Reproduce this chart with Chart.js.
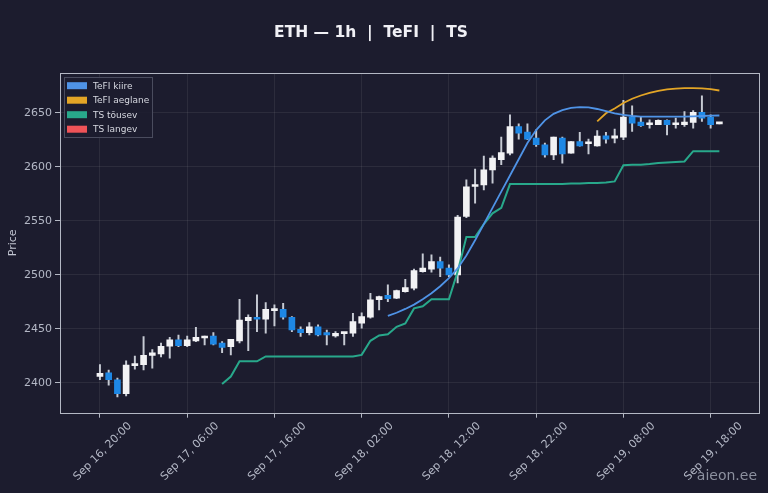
<!DOCTYPE html>
<html>
<head>
<meta charset="utf-8">
<script src="https://cdn.jsdelivr.net/npm/chart.js@4.4.0/dist/chart.umd.min.js"></script>
<style>
  html, body { margin: 0; padding: 0; background: #1c1c2e; }
  #chart { display: block; }
</style>
</head>
<body>
<canvas id="chart" width="768" height="493"></canvas>
<script>
/* DATA (hourly candles, index 0 = Sep 16 20:00) */
const opens = [2406, 2409.5, 2403, 2390, 2416, 2417, 2425.6, 2427, 2434, 2440, 2434.5, 2439, 2441.6, 2443.5, 2437, 2433.5, 2439, 2457.7, 2460.8, 2459, 2467, 2468.2, 2460.8, 2449.7, 2446.6, 2452, 2446.6, 2443.5, 2445.6, 2446, 2455.3, 2460.8, 2477, 2481, 2478.4, 2484.5, 2487.7, 2503, 2505.3, 2512.3, 2506.2, 2500, 2554, 2581.8, 2583.3, 2597.2, 2606.5, 2612.7, 2637.3, 2632.1, 2626.6, 2620.4, 2611.1, 2626.6, 2612.7, 2623.4, 2621.3, 2619.4, 2628.7, 2626.6, 2627.5, 2646, 2641.4, 2638.9, 2638.9, 2642.9, 2638.9, 2638.9, 2641, 2650.3, 2646, 2639.8];
const closes = [2409, 2403, 2390, 2416.5, 2418, 2425.5, 2428, 2434, 2440, 2434.5, 2440, 2442.3, 2443, 2436, 2433, 2440.4, 2458.3, 2460.8, 2459, 2468.2, 2468.2, 2460.8, 2449, 2446.6, 2452, 2444.4, 2444.4, 2446, 2446.6, 2456.8, 2461.4, 2477, 2480, 2478, 2485.5, 2488.3, 2504, 2506.2, 2512.3, 2506.2, 2500, 2553.4, 2581.5, 2583.3, 2597.2, 2608, 2613.2, 2637.3, 2631.2, 2625.6, 2620.4, 2611.1, 2627.5, 2612, 2623.4, 2619.4, 2622.5, 2628.5, 2625.6, 2628.7, 2646, 2640.4, 2638, 2640.4, 2642.9, 2638.9, 2640.4, 2641.4, 2650.3, 2645.1, 2638.9, 2641];
const highs = [2417, 2412, 2404.5, 2420.5, 2425, 2443, 2431, 2437, 2442.3, 2444.4, 2443.5, 2451.6, 2443.5, 2446.6, 2438.3, 2440.4, 2477.5, 2463, 2481.5, 2474.4, 2472.2, 2473.8, 2461.4, 2452, 2455.8, 2453.7, 2449, 2447.5, 2446.6, 2464.5, 2465, 2483, 2480.5, 2490.7, 2486, 2496, 2505.3, 2519.4, 2518.5, 2516.4, 2509.3, 2555, 2588, 2597.8, 2610, 2610.2, 2627.5, 2648, 2639.8, 2639.8, 2634.3, 2622, 2627.5, 2627.5, 2623.4, 2631.8, 2625.6, 2633.6, 2632, 2635, 2661.4, 2656.5, 2646, 2643.5, 2643.5, 2643.5, 2645.1, 2651.2, 2652.1, 2665.7, 2648, 2641];
const lows = [2403, 2398, 2387, 2388, 2412.7, 2412, 2413.6, 2424, 2423, 2433.6, 2433.6, 2438.3, 2435.2, 2435.2, 2428.1, 2425.9, 2437, 2430, 2447.5, 2446, 2452.8, 2459, 2447.5, 2443, 2444.4, 2443.5, 2435.2, 2442.3, 2435.2, 2443, 2450.6, 2460, 2467.6, 2475.3, 2478, 2484, 2486.1, 2502.5, 2502.5, 2498.4, 2498.4, 2492.6, 2553, 2566.4, 2578.7, 2584.9, 2601.9, 2611, 2625.6, 2625, 2618.8, 2609, 2606.5, 2603.4, 2612.7, 2619, 2612, 2619, 2621.9, 2622, 2625, 2632.7, 2637.3, 2635.8, 2638.9, 2629.6, 2635.8, 2637.3, 2635.8, 2641.9, 2635.8, 2639.8];

const tefiFast = [null, null, null, null, null, null, null, null, null, null, null, null, null, null, null, null, null, null, null, null, null, null, null, null, null, null, null, null, null, null, null, null, null, 2462, 2465, 2468.5, 2472.5, 2477.5, 2483, 2489.5, 2497, 2506, 2518, 2532, 2547, 2562, 2577, 2592, 2607, 2622, 2634, 2643, 2649, 2652.5, 2654.5, 2655.3, 2655, 2653.5, 2651.5, 2649.5, 2648, 2647, 2646.5, 2646.5, 2646.5, 2646.5, 2646.5, 2646.5, 2646.7, 2647, 2647.3, 2647.5];
const tefiSlow = [null, null, null, null, null, null, null, null, null, null, null, null, null, null, null, null, null, null, null, null, null, null, null, null, null, null, null, null, null, null, null, null, null, null, null, null, null, null, null, null, null, null, null, null, null, null, null, null, null, null, null, null, null, null, null, null, null, 2642, 2649.5, 2654, 2659, 2663, 2666, 2668.5, 2670.3, 2671.6, 2672.4, 2672.8, 2672.8, 2672.5, 2671.8, 2670.6];
const tsUp = [null, null, null, null, null, null, null, null, null, null, null, null, null, null, 2399, 2406, 2420, 2420, 2420, 2424.5, 2424.5, 2424.5, 2424.5, 2424.5, 2424.5, 2424.5, 2424.5, 2424.5, 2424.5, 2424.5, 2426, 2439, 2444, 2445, 2452, 2455, 2469, 2471, 2477.5, 2477.5, 2477.5, 2503, 2535, 2535, 2547, 2557, 2562, 2584, 2584, 2584, 2584, 2584, 2584, 2584, 2584.5, 2584.5, 2585, 2585, 2585.5, 2586.5, 2601.5, 2602, 2602, 2602.5, 2603.5, 2604, 2604.5, 2605, 2614.5, 2614.5, 2614.5, 2614.5];
const tsDown = [];

const xTickIdx = [0, 10, 20, 30, 40, 50, 60, 70];
const xTickLabels = ["Sep 16, 20:00", "Sep 17, 06:00", "Sep 17, 16:00", "Sep 18, 02:00", "Sep 18, 12:00", "Sep 18, 22:00", "Sep 19, 08:00", "Sep 19, 18:00"];
const yTicks = [2400, 2450, 2500, 2550, 2600, 2650];

const UP = "#f2f2f4", DOWN = "#1e88e5", WICK = "#c6cad3";
const FONT = "'DejaVu Sans', 'Liberation Sans', sans-serif";

/* build datasets */
const bodies = opens.map((o, i) => ({ x: i, y: [o, closes[i]] }));
const wicks = lows.map((l, i) => ({ x: i, y: [l, highs[i]] }));
const bodyColors = opens.map((o, i) => closes[i] >= o ? UP : DOWN);
const toPts = arr => arr.map((v, i) => ({ x: i, y: v }));

/* title, frame, legend, watermark */
const decor = {
  id: "decor",
  beforeDraw(chart) {
    const c = chart.ctx;
    c.save();
    c.fillStyle = "#1c1c2e";
    c.fillRect(0, 0, chart.width, chart.height);
    c.restore();
  },
  afterDraw(chart) {
    const c = chart.ctx;
    const a = chart.chartArea;
    c.save();
    // frame
    c.strokeStyle = "#b4b8c4";
    c.lineWidth = 1;
    c.strokeRect(Math.round(a.left) + 0.5, Math.round(a.top) + 0.5, Math.round(a.right - a.left) - 1, Math.round(a.bottom - a.top));

    // title
    c.fillStyle = "#f0f0f5";
    c.font = "bold 15.5px " + FONT;
    c.textAlign = "center";
    c.textBaseline = "middle";
    c.fillText("ETH \u2014 1h  |  TeFI  |  TS", 371, 33);

    // legend
    const items = chart.data.datasets.filter(d => d.type === "line");
    c.fillStyle = "rgba(28,28,46,0.85)";
    c.strokeStyle = "#4a4c5e";
    c.fillRect(64.5, 77.5, 88, 60);
    c.strokeRect(64.5, 77.5, 88, 60);
    c.font = "9px " + FONT;
    c.textAlign = "left";
    items.forEach((d, k) => {
      const y = 85.7 + k * 14.5;
      c.fillStyle = d.borderColor;
      c.fillRect(67, y - 3.5, 20, 7);
      c.fillStyle = "#d6d8e0";
      c.fillText(d.label, 93, y + 0.5);
    });

    // watermark
    c.fillStyle = "#8d91a0";
    c.font = "14px " + FONT;
    c.textAlign = "right";
    c.fillText("aieon.ee", 757, 476);
    c.restore();
  }
};

const ctx = document.getElementById("chart").getContext("2d");

const chart = new Chart(ctx, {
  data: {
    datasets: [
      { type: "line", label: "TeFI kiire", data: toPts(tefiFast), borderColor: "#4f93e6", borderWidth: 1.8, pointRadius: 0, order: 0 },
      { type: "line", label: "TeFI aeglane", data: toPts(tefiSlow), borderColor: "#e3a526", borderWidth: 1.8, pointRadius: 0, order: 0 },
      { type: "line", label: "TS t\u00f5usev", data: toPts(tsUp), borderColor: "#28a88b", borderWidth: 2, pointRadius: 0, order: 0 },
      { type: "line", label: "TS langev", data: toPts(tsDown), borderColor: "#ef5358", borderWidth: 2, pointRadius: 0, order: 0 },
      { type: "bar", label: "body", data: bodies, backgroundColor: bodyColors, barThickness: 6, minBarLength: 2, grouped: false, order: 1 },
      { type: "bar", label: "wick", data: wicks, backgroundColor: WICK, barThickness: 1.3, grouped: false, order: 2 }
    ]
  },
  options: {
    responsive: false,
    animation: false,
    layout: { padding: { top: 73, right: 8.5, bottom: 0, left: 0 } },
    plugins: {
      legend: { display: false },
      tooltip: { enabled: false },
      title: { display: false }
    },
    scales: {
      x: {
        type: "linear",
        offset: false,
        min: -4.58,
        max: 75.6,
        afterFit: s => { s.height = 80.3; },
        afterBuildTicks: s => { s.ticks = xTickIdx.map(v => ({ value: v })); },
        ticks: {
          autoSkip: false,
          maxRotation: 45,
          minRotation: 45,
          padding: 2,
          labelOffset: 30,
          color: "#b4b8c6",
          font: { family: FONT, size: 11 },
          callback: v => xTickLabels[xTickIdx.indexOf(v)]
        },
        grid: { offset: false, color: "rgba(255,255,255,0.07)", tickColor: "#b4b8c4", tickLength: 5 },
        border: { display: false }
      },
      y: {
        min: 2372.5,
        max: 2686.8,
        afterFit: s => { s.width = 60; },
        afterBuildTicks: s => { s.ticks = yTicks.map(v => ({ value: v })); },
        ticks: {
          padding: 3,
          color: "#b4b8c6",
          font: { family: FONT, size: 11 },
          callback: v => String(v)
        },
        grid: { color: "rgba(255,255,255,0.07)", tickColor: "#b4b8c4", tickLength: 5 },
        border: { display: false },
        title: { display: true, text: "Price", color: "#c0c4d0", font: { family: FONT, size: 11 }, padding: 7 }
      }
    }
  },
  plugins: [decor]
});
</script>
</body>
</html>
